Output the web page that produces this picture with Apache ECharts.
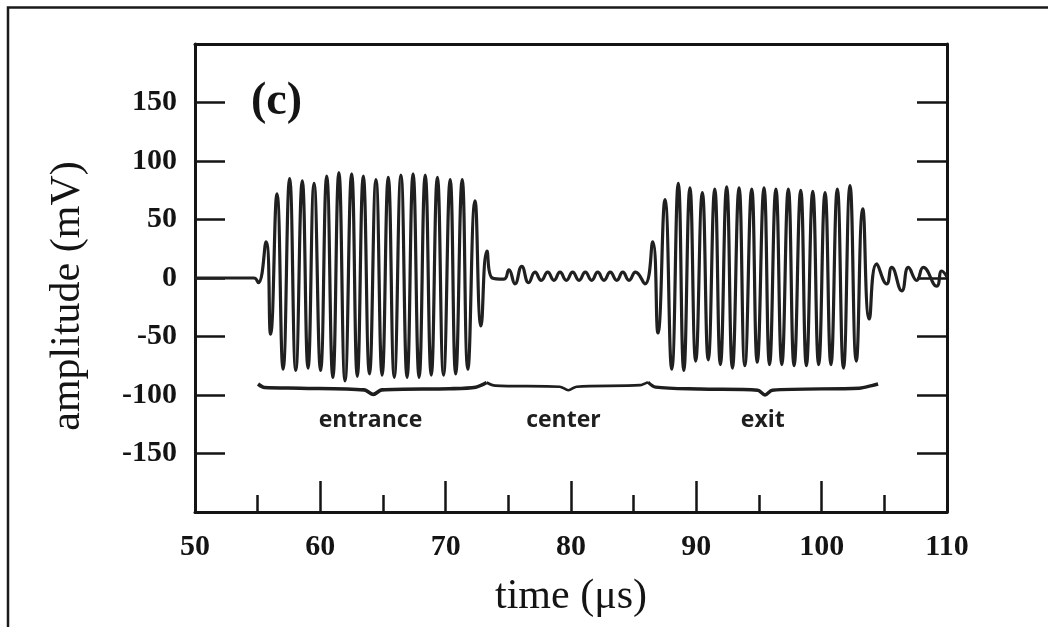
<!DOCTYPE html>
<html>
<head>
<meta charset="utf-8">
<script src="https://cdn.jsdelivr.net/npm/echarts@6/dist/echarts.min.js"></script>
<style>
html, body { margin: 0; padding: 0; background: #fff; }
#chart { width: 1048px; height: 627px; }
</style>
</head>
<body>
<div id="chart"></div>
<script>
// Axis ranges and tick steps
const timeRange = [50, 110];      // µs
const timeStep = 10;
const ampRange = [-200, 200];     // mV
const ampStep = 50;

// Received signal, sampled at its turning points: time (µs) and amplitude (mV)
const sigTime = [
  50.00, 54.70, 55.05, 55.67, 56.03,
  56.54, 57.03, 57.55, 58.04, 58.56, 59.02, 59.50, 60.02, 60.51, 61.00,
  61.48, 61.97, 62.50, 62.95, 63.43, 63.92, 64.44, 64.93, 65.42, 65.90,
  66.43, 66.92, 67.40, 67.88, 68.37, 68.85, 69.34, 69.83, 70.36, 70.80,
  71.32, 71.77, 72.34, 72.82, 73.30,
  73.72, 74.65, 75.05, 75.53, 76.07, 76.62, 77.13, 77.63, 78.14, 78.64,
  79.12, 79.63, 80.13, 80.64, 81.14, 81.65, 82.13, 82.63, 83.13, 83.65,
  84.13, 84.63, 85.14, 85.90,
  86.52, 86.94, 87.50, 88.04, 88.56, 89.00, 89.49, 89.95, 90.48, 90.95,
  91.47, 91.92, 92.42, 92.88, 93.41, 93.87, 94.42, 94.86, 95.40, 95.84,
  96.35, 96.82, 97.34, 97.80, 98.33, 98.78, 99.29, 99.76, 100.27, 100.74,
  101.25, 101.74, 102.26, 102.76, 103.28, 103.80,
  104.39, 105.19, 105.59, 106.39, 106.92, 107.58, 108.11, 109.18, 109.58, 110.00
];
const sigAmp = [
  0, 0, -4, 31, -48,
  72, -78, 85, -79, 83, -77, 81, -79, 87, -85,
  90, -88, 89, -84, 87, -82, 84, -83, 86, -85,
  88, -85, 89, -85, 88, -83, 86, -83, 84, -82,
  84, -78, 66, -41, 23,
  0, -1, 7, -5, 10, -4, 5, -2, 5, -2,
  5, -2, 5, -2, 5, -2, 5, -2, 5, -2,
  5, -2, 5, -5,
  31, -47, 67, -78, 81, -79, 77, -71, 73, -70,
  76, -74, 78, -77, 77, -75, 76, -72, 77, -74,
  76, -74, 76, -75, 75, -75, 74, -74, 73, -74,
  76, -77, 79, -71, 59, -35,
  12, -5, 9, -11, 9, -2, 9, -7, 6, 1
];

// Braces marking the three sections of the record
const braceEntranceT = [55.03, 55.55, 58.4, 63.5, 64.23, 64.9, 70.3, 72.4, 73.27];
const braceEntranceV = [-90.6, -93.6, -94.2, -95.6, -99.5, -95.6, -94.6, -93.3, -89.3];
const braceCenterT = [73.27, 73.95, 79.1, 79.79, 80.45, 85.5, 86.14];
const braceCenterV = [-89.3, -92.0, -92.9, -95.9, -92.9, -91.6, -89.0];
const braceExitT = [86.14, 86.75, 90.3, 94.9, 95.48, 96.06, 103.0, 104.0, 104.5];
const braceExitV = [-89.0, -93.3, -94.9, -95.9, -100.0, -95.9, -94.2, -92.0, -90.6];

// Section names written under the braces
const sectionNames = ['entrance', 'center', 'exit'];
const sectionT = [64.0, 79.4, 95.3];
const sectionV = [-122, -122, -122];

const pairs = (xs, ys) => xs.map((x, i) => [x, ys[i]]);

const ink = '#141414';
const serif = '"Liberation Serif", "Times New Roman", serif';

const tickLabel = {
  fontFamily: serif, fontWeight: 'bold', fontSize: 30, color: ink
};

function braceSeries(xs, ys, width) {
  return {
    type: 'line',
    data: pairs(xs, ys),
    smooth: 0.3,
    symbol: 'none',
    silent: true,
    lineStyle: { color: '#1e1e1e', width: width },
    z: 3
  };
}

const chart = echarts.init(document.getElementById('chart'), null, { renderer: 'canvas' });

chart.setOption({
  backgroundColor: '#fff',
  animation: false,
  title: {
    text: '(c)',
    left: 246,
    top: 74,
    textStyle: { fontFamily: serif, fontWeight: 'bold', fontSize: 46, color: ink }
  },
  graphic: [{
    type: 'polyline',
    shape: { points: [[8, 640], [8, 7.5], [1060, 7.5]] },
    style: { stroke: '#1a1a1a', lineWidth: 2.5, fill: null },
    silent: true
  }],
  grid: {
    left: 195, right: 101, top: 44, bottom: 115,
    containLabel: false,
    outerBoundsMode: 'none'
  },
  xAxis: [{
    type: 'value',
    position: 'bottom',
    min: timeRange[0], max: timeRange[1], interval: timeStep,
    name: 'time (μs)',
    nameLocation: 'middle',
    nameGap: 64,
    nameTextStyle: { fontFamily: serif, fontSize: 42, color: ink },
    axisLine: { onZero: false, lineStyle: { color: ink, width: 3 } },
    axisTick: { inside: true, length: 31, lineStyle: { color: ink, width: 2.5 } },
    minorTick: { show: true, splitNumber: 2, length: 17, lineStyle: { color: ink, width: 2.5 } },
    axisLabel: Object.assign({ margin: 20 }, tickLabel),
    splitLine: { show: false },
    minorSplitLine: { show: false }
  }, {
    type: 'value',
    position: 'top',
    min: timeRange[0], max: timeRange[1], interval: timeStep,
    axisLine: { onZero: false, lineStyle: { color: ink, width: 3 } },
    axisTick: { show: false },
    axisLabel: { show: false },
    splitLine: { show: false }
  }],
  yAxis: [{
    type: 'value',
    position: 'left',
    min: ampRange[0], max: ampRange[1], interval: ampStep,
    name: 'amplitude (mV)',
    nameLocation: 'middle',
    nameGap: 106,
    nameTextStyle: { fontFamily: serif, fontSize: 42, color: ink, padding: [0, 36, 0, 0] },
    axisLine: { onZero: false, lineStyle: { color: ink, width: 3 } },
    axisTick: { inside: true, length: 30, lineStyle: { color: ink, width: 2.5 } },
    axisLabel: Object.assign({ margin: 18, showMinLabel: false, showMaxLabel: false }, tickLabel),
    splitLine: { show: false }
  }, {
    type: 'value',
    position: 'right',
    min: ampRange[0], max: ampRange[1], interval: ampStep,
    axisLine: { onZero: false, lineStyle: { color: ink, width: 3 } },
    axisTick: { inside: true, length: 30, lineStyle: { color: ink, width: 2.5 } },
    axisLabel: { show: false },
    splitLine: { show: false }
  }],
  series: [
    {
      type: 'line',
      data: pairs(sigTime, sigAmp),
      smooth: 0.5,
      symbol: 'none',
      silent: true,
      lineStyle: { color: '#202020', width: 3.2 },
      z: 4
    },
    braceSeries(braceEntranceT, braceEntranceV, 3.6),
    braceSeries(braceCenterT, braceCenterV, 2.6),
    braceSeries(braceExitT, braceExitV, 3.4),
    {
      type: 'scatter',
      symbolSize: 0,
      silent: true,
      itemStyle: { opacity: 1 },
      data: sectionNames.map((n, i) => ({ name: n, value: [sectionT[i], sectionV[i]] })),
      label: {
        show: true,
        position: 'inside',
        formatter: p => p.name,
        fontFamily: '"Open Sans", "DejaVu Sans", sans-serif',
        fontWeight: 'bold',
        fontSize: 23,
        color: '#1e1e1e',
        opacity: 1
      }
    }
  ]
});
</script>
</body>
</html>
